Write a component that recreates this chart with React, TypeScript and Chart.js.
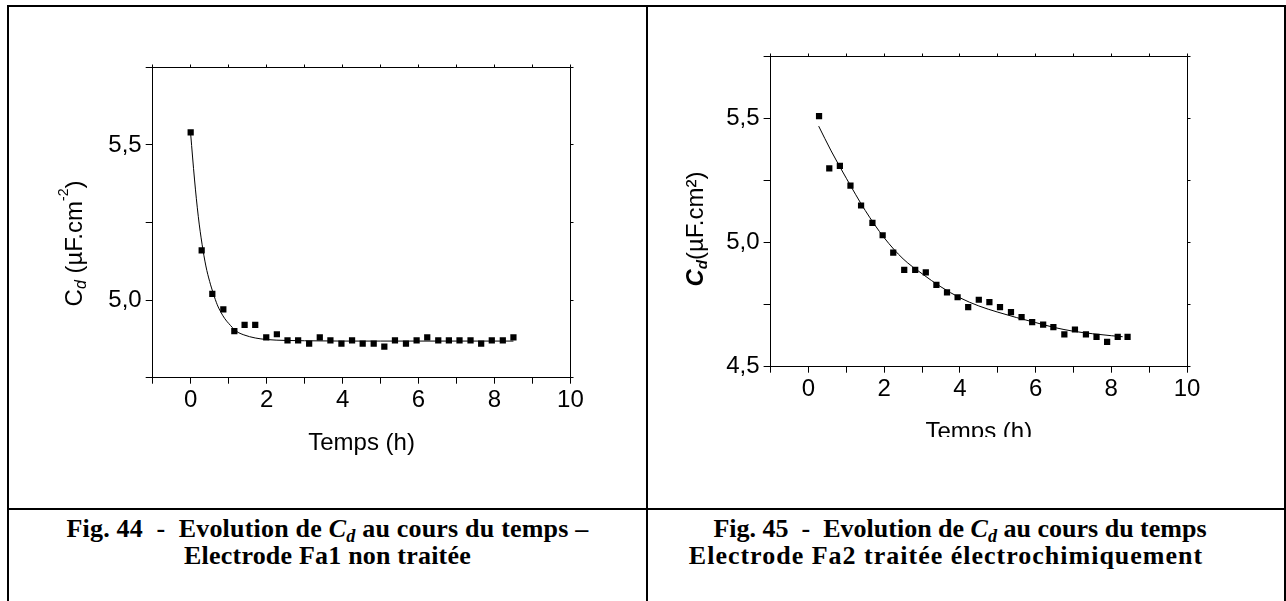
import { useEffect, useRef } from 'react';
import { Chart, registerables } from 'chart.js';

Chart.register(...registerables);

// ---------- Data ----------
// Fig. 44 – Electrode Fa1 non traitée
const time1 = [0, 0.29, 0.57, 0.86, 1.15, 1.42, 1.7, 1.99, 2.27, 2.55, 2.83, 3.12, 3.4, 3.68, 3.97, 4.25, 4.53, 4.82, 5.1, 5.38, 5.67, 5.95, 6.23, 6.52, 6.8, 7.08, 7.37, 7.65, 7.93, 8.22, 8.5];
const cd1 = [5.54, 5.16, 5.02, 4.97, 4.9, 4.92, 4.92, 4.88, 4.89, 4.87, 4.87, 4.86, 4.88, 4.87, 4.86, 4.87, 4.86, 4.86, 4.85, 4.87, 4.86, 4.87, 4.88, 4.87, 4.87, 4.87, 4.87, 4.86, 4.87, 4.87, 4.88];
const fitTime1 = [0, 0.1, 0.2, 0.3, 0.4, 0.5, 0.6, 0.7, 0.8, 0.9, 1.0, 1.2, 1.4, 1.7, 2.0, 2.5, 3.0, 4.0, 5.0, 6.0, 7.0, 8.5];
const fitCd1 = [5.535, 5.39, 5.27, 5.18, 5.11, 5.06, 5.02, 4.985, 4.96, 4.94, 4.925, 4.9, 4.888, 4.878, 4.873, 4.87, 4.869, 4.868, 4.868, 4.868, 4.868, 4.868];

// Fig. 45 – Electrode Fa2 traitée électrochimiquement
const time2 = [0.28, 0.55, 0.83, 1.11, 1.39, 1.69, 1.96, 2.24, 2.53, 2.82, 3.1, 3.38, 3.66, 3.94, 4.22, 4.5, 4.78, 5.06, 5.35, 5.63, 5.91, 6.2, 6.47, 6.76, 7.04, 7.33, 7.61, 7.89, 8.17, 8.43];
const cd2 = [5.51, 5.3, 5.31, 5.23, 5.15, 5.08, 5.03, 4.96, 4.89, 4.89, 4.88, 4.83, 4.8, 4.78, 4.74, 4.77, 4.76, 4.74, 4.72, 4.7, 4.68, 4.67, 4.66, 4.63, 4.65, 4.63, 4.62, 4.6, 4.62, 4.62];
const fitTime2 = [0.27, 0.6, 1.0, 1.5, 2.0, 2.5, 3.0, 3.5, 4.0, 4.5, 5.0, 5.5, 6.0, 6.5, 7.0, 7.5, 8.0, 8.3];
const fitCd2 = [5.47, 5.37, 5.26, 5.13, 5.02, 4.935, 4.875, 4.822, 4.778, 4.745, 4.72, 4.698, 4.678, 4.658, 4.643, 4.633, 4.625, 4.621];

// Axes
const xMin = -1;
const xMax = 10;
const xStep = 1;
const yMin1 = 4.75;
const yMax1 = 5.75;
const yMin2 = 4.5;
const yMax2 = 5.75;
const yStep = 0.25;
const xTitle = 'Temps (h)';

const SANS = '"Liberation Sans", Arial, Helvetica, sans-serif';
const SERIF = '"Liberation Serif", "Times New Roman", Times, serif';

type Seg = { text: string; font: string; dy: number };

type PanelSpec = {
  left: number;
  top: number;
  w: number;
  h: number;
  pad: { top: number; right: number };
  yWidth: number;
  xHeight: number;
  yMin: number;
  yMax: number;
  times: number[];
  values: number[];
  fitTimes: number[];
  fitValues: number[];
  yTitle: Seg[];
  yTitleBaseOffset: number;
  yTitleCenterOffset: number;
};

const yTitle1: Seg[] = [
  { text: 'C', font: `24px ${SANS}`, dy: 0 },
  { text: 'd', font: `italic 16px ${SANS}`, dy: 4 },
  { text: ' (µF.cm', font: `24px ${SANS}`, dy: 0 },
  { text: '-2', font: `14px ${SANS}`, dy: -14 },
  { text: ')', font: `24px ${SANS}`, dy: 0 },
];

const yTitle2: Seg[] = [
  { text: 'C', font: `italic bold 24px ${SANS}`, dy: 0 },
  { text: 'd', font: `italic bold 15px ${SANS}`, dy: 4 },
  { text: '(µF.cm²)', font: `24px ${SANS}`, dy: 0 },
];

function fmtY(v: number) {
  const r = Math.round(v * 100) / 100;
  return Math.abs(r * 2 - Math.round(r * 2)) < 1e-6 ? r.toFixed(1).replace('.', ',') : '';
}

function align(p: number) {
  return Math.round(p - 0.5) + 0.5;
}

function buildConfig(p: PanelSpec): any {
  const framePlugin = {
    id: 'frameAndTitles',
    afterDraw(chart: any) {
      const { ctx, chartArea: a, scales } = chart;
      ctx.save();
      ctx.strokeStyle = '#000';
      ctx.lineWidth = 1;
      const top = align(a.top);
      const right = align(a.right);
      ctx.beginPath();
      ctx.moveTo(align(a.left), top);
      ctx.lineTo(right, top);
      ctx.lineTo(right, align(a.bottom));
      ctx.stroke();
      ctx.beginPath();
      scales.x.ticks.forEach((t: any) => {
        const px = align(scales.x.getPixelForValue(t.value));
        ctx.moveTo(px, top);
        ctx.lineTo(px, top - 3);
      });
      scales.y.ticks.forEach((t: any) => {
        const py = align(scales.y.getPixelForValue(t.value));
        ctx.moveTo(right, py);
        ctx.lineTo(right + 3, py);
      });
      ctx.stroke();

      ctx.fillStyle = '#000';
      ctx.font = `24px ${SANS}`;
      ctx.textAlign = 'center';
      ctx.textBaseline = 'alphabetic';
      ctx.fillText(xTitle, (a.left + a.right) / 2, a.bottom + 72.3);

      ctx.textAlign = 'left';
      let total = 0;
      const widths = p.yTitle.map((s) => {
        ctx.font = s.font;
        const w = ctx.measureText(s.text).width;
        total += w;
        return w;
      });
      ctx.translate(a.left - p.yTitleBaseOffset, a.top + p.yTitleCenterOffset);
      ctx.rotate(-Math.PI / 2);
      let x = -total / 2;
      p.yTitle.forEach((s, i) => {
        ctx.font = s.font;
        ctx.fillText(s.text, x, s.dy);
        x += widths[i];
      });
      ctx.restore();
    },
  };

  const points = p.times.map((t, i) => ({ x: t, y: p.values[i] }));
  const fit = p.fitTimes.map((t, i) => ({ x: t, y: p.fitValues[i] }));

  return {
    type: 'scatter',
    data: {
      datasets: [
        {
          label: 'fit',
          data: fit,
          showLine: true,
          borderColor: '#000',
          borderWidth: 1,
          pointRadius: 0,
          cubicInterpolationMode: 'monotone',
          fill: false,
          order: 2,
        },
        {
          label: 'Cd',
          data: points,
          pointStyle: 'rect',
          pointRadius: 4.4,
          pointHoverRadius: 4.4,
          backgroundColor: '#000',
          borderColor: '#000',
          borderWidth: 0,
          order: 1,
        },
      ],
    },
    options: {
      animation: false,
      responsive: false,
      events: [],
      layout: { padding: { left: 0, top: p.pad.top, right: p.pad.right, bottom: 0 } },
      plugins: { legend: { display: false }, tooltip: { enabled: false }, title: { display: false } },
      scales: {
        x: {
          type: 'linear',
          position: 'bottom',
          min: xMin,
          max: xMax,
          afterFit: (s: any) => {
            s.height = p.xHeight;
          },
          ticks: {
            stepSize: xStep,
            autoSkip: false,
            maxRotation: 0,
            color: '#000',
            padding: 2,
            font: { family: SANS, size: 24 },
            callback: (v: number) => (Math.round(v) % 2 === 0 ? String(Math.round(v)) : ''),
          },
          grid: { drawOnChartArea: false, drawTicks: true, tickLength: 6, color: '#000', tickColor: '#000' },
          border: { display: true, color: '#000', width: 1 },
        },
        y: {
          type: 'linear',
          position: 'left',
          min: p.yMin,
          max: p.yMax,
          afterFit: (s: any) => {
            s.width = p.yWidth;
          },
          ticks: {
            stepSize: yStep,
            autoSkip: false,
            color: '#000',
            padding: 4,
            font: { family: SANS, size: 24 },
            callback: (v: number) => fmtY(v),
          },
          grid: { drawOnChartArea: false, drawTicks: true, tickLength: 7, color: '#000', tickColor: '#000' },
          border: { display: true, color: '#000', width: 1 },
        },
      },
    },
    plugins: [framePlugin],
  };
}

const panel1: PanelSpec = {
  left: 20,
  top: 20,
  w: 600,
  h: 470,
  pad: { top: 47.3, right: 49.6 },
  yWidth: 132.7,
  xHeight: 112.3,
  yMin: yMin1,
  yMax: yMax1,
  times: time1,
  values: cd1,
  fitTimes: fitTime1,
  fitValues: fitCd1,
  yTitle: yTitle1,
  yTitleBaseOffset: 70.7,
  yTitleCenterOffset: 176.2,
};

const panel2: PanelSpec = {
  left: 660,
  top: 20,
  w: 600,
  h: 417,
  pad: { top: 36.7, right: 73 },
  yWidth: 110.6,
  xHeight: 70.3,
  yMin: yMin2,
  yMax: yMax2,
  times: time2,
  values: cd2,
  fitTimes: fitTime2,
  fitValues: fitCd2,
  yTitle: yTitle2,
  yTitleBaseOffset: 67.6,
  yTitleCenterOffset: 172.3,
};

function Panel({ spec }: { spec: PanelSpec }) {
  const ref = useRef<HTMLCanvasElement>(null);
  useEffect(() => {
    const chart = new Chart(ref.current as HTMLCanvasElement, buildConfig(spec));
    return () => chart.destroy();
  }, [spec]);
  return (
    <canvas
      ref={ref}
      width={spec.w}
      height={spec.h}
      style={{ position: 'absolute', left: spec.left, top: spec.top, width: spec.w, height: spec.h }}
    />
  );
}

const line = (left: number, top: number, width: number, height: number) => (
  <div style={{ position: 'absolute', left, top, width, height, background: '#000' }} />
);

const sub = { fontSize: '0.7em', verticalAlign: '-0.25em', lineHeight: 0 } as const;

const capStyle = {
  position: 'absolute',
  textAlign: 'center',
  font: `bold 26px/27px ${SERIF}`,
  whiteSpace: 'pre',
  color: '#000',
} as const;

export default function App() {
  return (
    <div
      style={{
        position: 'absolute',
        left: 0,
        top: 0,
        width: 1286,
        height: 601,
        overflow: 'hidden',
        background: '#fff',
      }}
    >
      {line(7, 5, 1279, 2)}
      {line(7, 5, 2, 596)}
      {line(646, 5, 2, 596)}
      {line(1284, 5, 2, 596)}
      {line(7, 508, 1279, 2)}

      <Panel spec={panel1} />
      <Panel spec={panel2} />

      <div style={{ ...capStyle, left: 9, top: 515, width: 637, letterSpacing: '0.2px' }}>
        <div>
          {'Fig. 44  -  Evolution de '}
          <i>
            C<span style={sub}>d</span>
          </i>
          {' au cours du temps –'}
        </div>
        <div>Electrode Fa1 non traitée</div>
      </div>

      <div style={{ ...capStyle, left: 660, top: 515, width: 600 }}>
        {'Fig. 45  -  Evolution de '}
        <i>
          C<span style={sub}>d</span>
        </i>
        {' au cours du temps'}
      </div>
      <div style={{ ...capStyle, left: 646, top: 542, width: 600, letterSpacing: '1px' }}>
        Electrode Fa2 traitée électrochimiquement
      </div>
    </div>
  );
}
